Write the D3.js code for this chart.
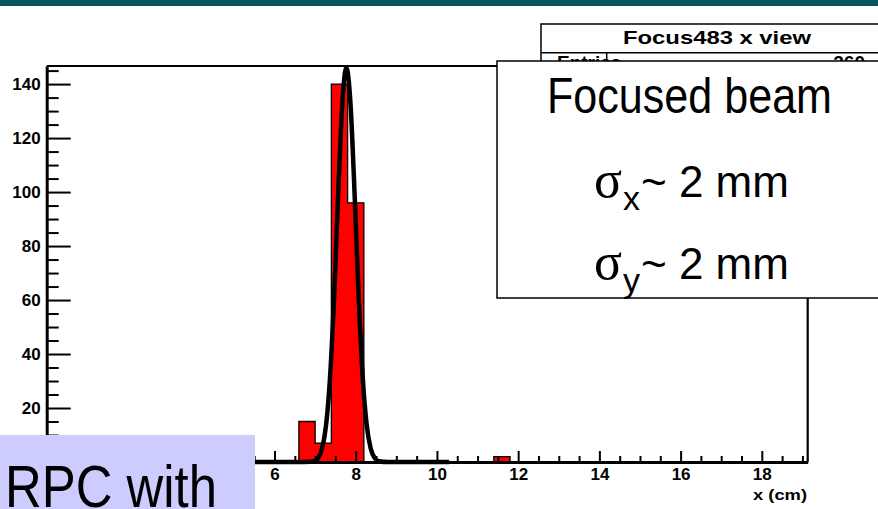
<!DOCTYPE html>
<html>
<head>
<meta charset="utf-8">
<script src="https://cdn.jsdelivr.net/npm/d3@7"></script>
<style>
  body { margin: 0; background: #fff; }
  svg { display: block; }
  text { font-family: "Liberation Sans", Arial, Helvetica, sans-serif; }
</style>
</head>
<body>
<svg id="chart" width="878" height="509"></svg>
<script>
// histogram bins: low edge (cm) and entries, all bins 0.4 cm wide
const binLow = [6.6, 7.0, 7.4, 7.8, 11.4]
const binCount = [15, 7, 140, 96, 2]
const binWidth = 0.4

// gaussian fit curve
const fitX = [5.5, 6.6, 6.87, 6.97, 7.07, 7.17, 7.27, 7.37, 7.47, 7.57, 7.67, 7.77, 7.87, 7.97, 8.07, 8.17, 8.27, 8.37, 8.47, 8.57, 8.8, 10.3]
const fitY = [0, 0, 0.1, 0.3, 1.4, 4.9, 13.7, 32, 62, 100, 133, 146, 133, 100, 62, 32, 13.7, 4.9, 1.4, 0.3, 0, 0]

// axis tick labels that are not hidden by the caption box
const xMajorTicks = [6, 8, 10, 12, 14, 16, 18]
const yMajorTicks = [20, 40, 60, 80, 100, 120, 140]

const histTitle = 'Focus483 x view'
const xTitle = 'x (cm)'
const sigmaLines = [['x', '~ 2 mm'], ['y', '~ 2 mm']]

var svg = d3.select('#chart')

// plot frame in pixels
var plotLeft = 46.7, plotRight = 807.7, plotTop = 66, plotBottom = 462

var x = d3.scaleLinear().domain([0.39, 19.13]).range([plotLeft, plotRight])
var y = d3.scaleLinear().domain([0, 146.7]).range([plotBottom, plotTop])

// top band of the slide
svg.append('rect').attr('x', 0).attr('y', 0).attr('width', 878).attr('height', 6).attr('fill', '#04585a')

var defs = svg.append('defs')
defs.append('clipPath').attr('id', 'plotclip')
  .append('rect').attr('x', plotLeft).attr('y', plotTop).attr('width', plotRight - plotLeft).attr('height', plotBottom - plotTop)
// only a sliver of the stats row shows above the label box
defs.append('clipPath').attr('id', 'statsclip')
  .append('rect').attr('x', 541).attr('y', 53).attr('width', 340).attr('height', 8)

// full list of bins (zero where empty) so the outline steps like ROOT does
var binStart = 0.2
var nBins = Math.round((19.4 - binStart) / binWidth)
var bins = d3.range(nBins).map(function (i) {
  var low = binStart + i * binWidth
  var k = binLow.findIndex(function (b) { return Math.abs(b - low) < 1e-6 })
  return { low: low, count: k > -1 ? binCount[k] : 0 }
})
var stepPts = bins.map(function (b) { return [b.low, b.count] })
stepPts.push([bins[bins.length - 1].low + binWidth, 0])

var histGroup = svg.append('g').attr('clip-path', 'url(#plotclip)')
histGroup.append('path')
  .datum(stepPts)
  .attr('fill', '#ff0000')
  .attr('d', d3.area().curve(d3.curveStepAfter).x(function (d) { return x(d[0]) }).y0(y(0)).y1(function (d) { return y(d[1]) }))
histGroup.append('path')
  .datum(stepPts)
  .attr('fill', 'none')
  .attr('stroke', '#000')
  .attr('stroke-width', 1.3)
  .attr('d', d3.line().curve(d3.curveStepAfter).x(function (d) { return x(d[0]) }).y(function (d) { return y(d[1]) }))

// fit curve
var fitPts = fitX.map(function (v, i) { return [v, fitY[i]] })
svg.append('path')
  .datum(fitPts)
  .attr('fill', 'none')
  .attr('stroke', '#000')
  .attr('stroke-width', 4.5)
  .attr('stroke-linejoin', 'round')
  .attr('d', d3.line().curve(d3.curveMonotoneX).x(function (d) { return x(d[0]) }).y(function (d) { return y(d[1]) }))

// frame: top and right
svg.append('line').attr('x1', plotLeft).attr('x2', plotRight).attr('y1', plotTop).attr('y2', plotTop).attr('stroke', '#000').attr('stroke-width', 2.2)
svg.append('line').attr('x1', plotRight).attr('x2', plotRight).attr('y1', plotTop).attr('y2', plotBottom).attr('stroke', '#000').attr('stroke-width', 2.2)

// x axis, ticks pointing up
var xMinor = d3.range(0.5, 19.1, 0.5).filter(function (v) { return v % 2 !== 0 })
svg.append('g')
  .attr('transform', 'translate(0,' + plotBottom + ')')
  .call(d3.axisBottom(x).tickValues(xMinor).tickSize(-6).tickFormat(''))
  .call(function (g) { g.select('.domain').remove() })
var xAxis = svg.append('g')
  .attr('transform', 'translate(0,' + plotBottom + ')')
  .call(d3.axisBottom(x).tickValues(xMajorTicks).tickSize(-11).tickSizeOuter(0).tickPadding(6).tickFormat(d3.format('d')))
xAxis.selectAll('text').attr('font-size', 17).attr('font-weight', 'bold').attr('fill', '#000')
  .style('font-family', '"Liberation Sans", Arial, sans-serif')
xAxis.select('.domain').attr('stroke-width', 3)

// y axis, ticks pointing right
var yMinor = d3.range(5, 146, 5).filter(function (v) { return v % 20 !== 0 })
svg.append('g')
  .attr('transform', 'translate(' + plotLeft + ',0)')
  .call(d3.axisLeft(y).tickValues(yMinor).tickSize(-12).tickFormat(''))
  .call(function (g) { g.select('.domain').remove() })
var yAxis = svg.append('g')
  .attr('transform', 'translate(' + plotLeft + ',0)')
  .call(d3.axisLeft(y).tickValues(yMajorTicks).tickSize(-24).tickSizeOuter(0).tickPadding(6).tickFormat(d3.format('d')))
yAxis.selectAll('text').attr('font-size', 17).attr('font-weight', 'bold').attr('fill', '#000')
  .style('font-family', '"Liberation Sans", Arial, sans-serif')
yAxis.select('.domain').attr('stroke-width', 3)
svg.selectAll('.tick line').attr('stroke', '#000').attr('stroke-width', 2)

svg.append('text')
  .attr('x', 807).attr('y', 500)
  .attr('text-anchor', 'end')
  .attr('font-size', 14).attr('font-weight', 'bold')
  .attr('textLength', 54).attr('lengthAdjust', 'spacingAndGlyphs')
  .text(xTitle)

// ROOT stats box (mostly hidden behind the label box)
svg.append('rect').attr('x', 541).attr('y', 24).attr('width', 360).attr('height', 80)
  .attr('fill', '#fff').attr('stroke', '#000').attr('stroke-width', 1.5)
svg.append('line').attr('x1', 541).attr('x2', 900).attr('y1', 52.7).attr('y2', 52.7).attr('stroke', '#000').attr('stroke-width', 1.5)
svg.append('line').attr('x1', 606.7).attr('x2', 606.7).attr('y1', 52.7).attr('y2', 100).attr('stroke', '#000').attr('stroke-width', 1.5)
svg.append('text')
  .attr('x', 623).attr('y', 44)
  .attr('font-size', 19).attr('font-weight', 'bold')
  .attr('textLength', 188).attr('lengthAdjust', 'spacingAndGlyphs')
  .text(histTitle)
var statsRow = svg.append('g').attr('clip-path', 'url(#statsclip)')
statsRow.append('text').attr('x', 557).attr('y', 69).attr('font-size', 19).attr('font-weight', 'bold').text('Entries')
statsRow.append('text').attr('x', 865).attr('y', 69).attr('text-anchor', 'end').attr('font-size', 19).attr('font-weight', 'bold')
  .text(d3.sum(binCount))

// label box
svg.append('rect').attr('x', 497).attr('y', 61).attr('width', 400).attr('height', 237)
  .attr('fill', '#fff').attr('stroke', '#000').attr('stroke-width', 1.5)
svg.append('text')
  .attr('x', 547).attr('y', 113)
  .attr('font-size', 50)
  .attr('textLength', 285).attr('lengthAdjust', 'spacingAndGlyphs')
  .text('Focused beam')

sigmaLines.forEach(function (line, i) {
  var base = 197 + i * 82
  svg.append('text')
    .attr('x', 594).attr('y', base)
    .attr('font-size', 52)
    .style('font-family', '"Liberation Serif", "Times New Roman", serif')
    .text('\u03c3')
  svg.append('text')
    .attr('x', 623).attr('y', base + 13)
    .attr('font-size', 34)
    .text(line[0])
  svg.append('text')
    .attr('x', 641).attr('y', base)
    .attr('font-size', 44)
    .text(line[1])
})

// lavender caption box at the bottom left
svg.append('rect').attr('x', 0).attr('y', 435).attr('width', 255).attr('height', 74).attr('fill', '#ccccff')
svg.append('text')
  .attr('x', 5).attr('y', 507)
  .attr('font-size', 60)
  .attr('textLength', 212).attr('lengthAdjust', 'spacingAndGlyphs')
  .text('RPC with')
</script>
</body>
</html>
